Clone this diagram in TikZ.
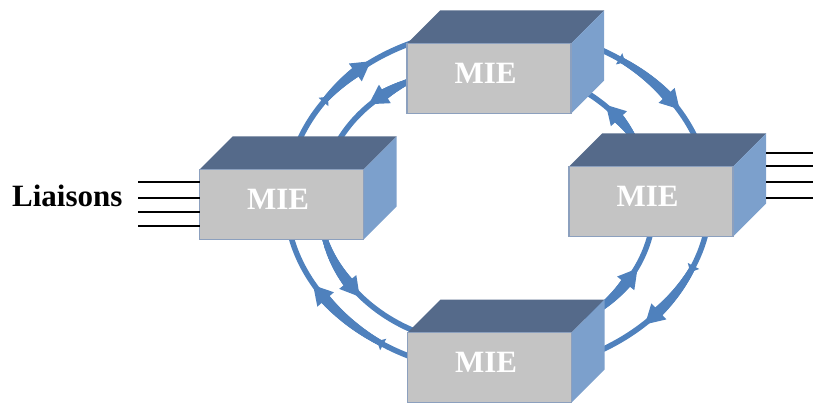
\documentclass[tikz,border=0pt]{standalone}
\usepackage{fontspec}
\setmainfont{Liberation Serif}
\usetikzlibrary{decorations.markings,calc}
\definecolor{arcblue}{HTML}{4F81BD}
\definecolor{frontgray}{HTML}{C4C4C4}
\definecolor{faceedge}{HTML}{8CA0BE}
\definecolor{topblue}{HTML}{556A8A}
\definecolor{sideblue}{HTML}{7CA0CC}
\pgfdeclarelayer{arcs}
\pgfdeclarelayer{faces}
\pgfsetlayers{arcs,faces,main}
\newcommand\miebox[2]{%
  \node[face] (#1) at (#2) {MIE\kern7pt};
  \begin{pgfonlayer}{faces}
    \fill[topface] (#1.north west) -- ++(33,33) -- ++(164,0) -- (#1.north east) -- cycle;
    \fill[sideface] (#1.north east) -- ++(33,33) -- ++(0,-70) -- (#1.south east) -- cycle;
  \end{pgfonlayer}}
% tapered shaft dot: #1 start pos, #2 end pos, #3 start radius, #4 end radius
\newcommand\taperdot[4]{%
  \pgfmathsetmacro\tprad{#3+(#4-#3)*((\pgfkeysvalueof{/pgf/decoration/mark info/distance from start})-#1*\pgfdecoratedpathlength)/((#2-#1)*\pgfdecoratedpathlength)}%
  \fill[arcblue] (0,0) circle[radius=\tprad pt];}
\newcommand\headtri{\fill[arcblue] (-1pt,11pt) -- (18pt,0pt) -- (-1pt,-11pt) -- cycle;}
\newcommand\notchtri{\fill[arcblue] (-1pt,6.5pt) -- (6pt,0pt) -- (-1pt,-6.5pt) -- cycle;}
\begin{document}
\begin{tikzpicture}[x=1pt,y=1pt,
  face/.style={draw=faceedge, line width=1.5pt, fill=frontgray, minimum width=164pt,
    minimum height=70pt, inner sep=0pt, outer sep=0pt, text=white,
    font=\fontsize{31}{37}\selectfont\bfseries, text height=20pt, text depth=10pt},
  topface/.style={fill=topblue},
  sideface/.style={fill=sideblue},
  ring/.style={draw=arcblue, line width=5.5pt, looseness=0.9},
  flow/.style 2 args={ring, postaction={decorate}, decoration={markings,
    mark=at position #1 with {\notchtri},
    mark=between positions #1 and #2 step 0.8pt with {\taperdot{#1}{#2}{2.9}{5.4}},
    mark=at position #2 with {\headtri}}},
  iflow/.style 2 args={ring, postaction={decorate}, decoration={markings,
    mark=between positions #1 and #2 step 0.8pt with {\taperdot{#1}{#2}{2.75}{5.6}},
    mark=at position #2 with {\headtri}}},
  wire/.style={draw=black, line width=1.4pt},
  lbl/.style={font=\fontsize{31}{37}\selectfont\bfseries, inner sep=0pt, anchor=base west}
]
\useasboundingbox (0,0) rectangle (813,-403);

% boxes
\miebox{L}{281.5,-204.5}
\miebox{T}{489,-78.5}
\miebox{R}{651,-201.5}
\miebox{B}{489.5,-367.5}

% label
\node[lbl] (liaisons) at (12,-207) {Liaisons};

% wires
\foreach \dy in {22.5,6.5,-7.5,-21.5}
  \draw[wire] ($(L.west)+(0,\dy)$) -- ++(-62,0);
\foreach \dy in {48.5,35.5,19.5,3.5}
  \draw[wire] ($(R.east)+(33,\dy)$) -- ++(48,0);

% arc end points
\coordinate (o1a) at (296.4,-146.8); \coordinate (o1b) at (418.6,-40.5);
\coordinate (o2a) at (594.2,-46.8);  \coordinate (o2b) at (697.2,-141.2);
\coordinate (o3a) at (707.9,-223.9); \coordinate (o3b) at (584.2,-357.1);
\coordinate (o4a) at (418.6,-359.5); \coordinate (o4b) at (288.1,-223.9);
\coordinate (i1a) at (413.8,-79.2);  \coordinate (i1b) at (335.6,-145.8);
\coordinate (i2a) at (637.1,-143.6); \coordinate (i2b) at (580.4,-88.9);
\coordinate (i3a) at (585.2,-318.3); \coordinate (i3b) at (652.4,-224.5);
\coordinate (i4a) at (322.5,-229.3); \coordinate (i4b) at (424.4,-334.8);

\begin{pgfonlayer}{arcs}
  % outer ring (clockwise)
  \draw[flow={0.32}{0.58}] (o1a) to[out=68,in=198] (o1b);
  \draw[flow={0.2}{0.62}] (o2a) to[out=-22.5,in=114.2] (o2b);
  \draw[flow={0.24}{0.54}] (o3a) to[out=260,in=20] (o3b);
  \draw[flow={0.2}{0.57}] (o4a) to[out=162,in=280] (o4b);
  % inner ring (counter-clockwise)
  \draw[iflow={0.05}{0.32}] (i1a) to[out=202,in=61] (i1b);
  \draw[iflow={0.05}{0.40}] (i2a) to[out=120,in=-29.5] (i2b);
  \draw[iflow={0.05}{0.46}] (i3a) to[out=31,in=260.5] (i3b);
  \draw[iflow={0.05}{0.39}] (i4a) to[out=-78,in=161] (i4b);
\end{pgfonlayer}
\end{tikzpicture}
\end{document}
